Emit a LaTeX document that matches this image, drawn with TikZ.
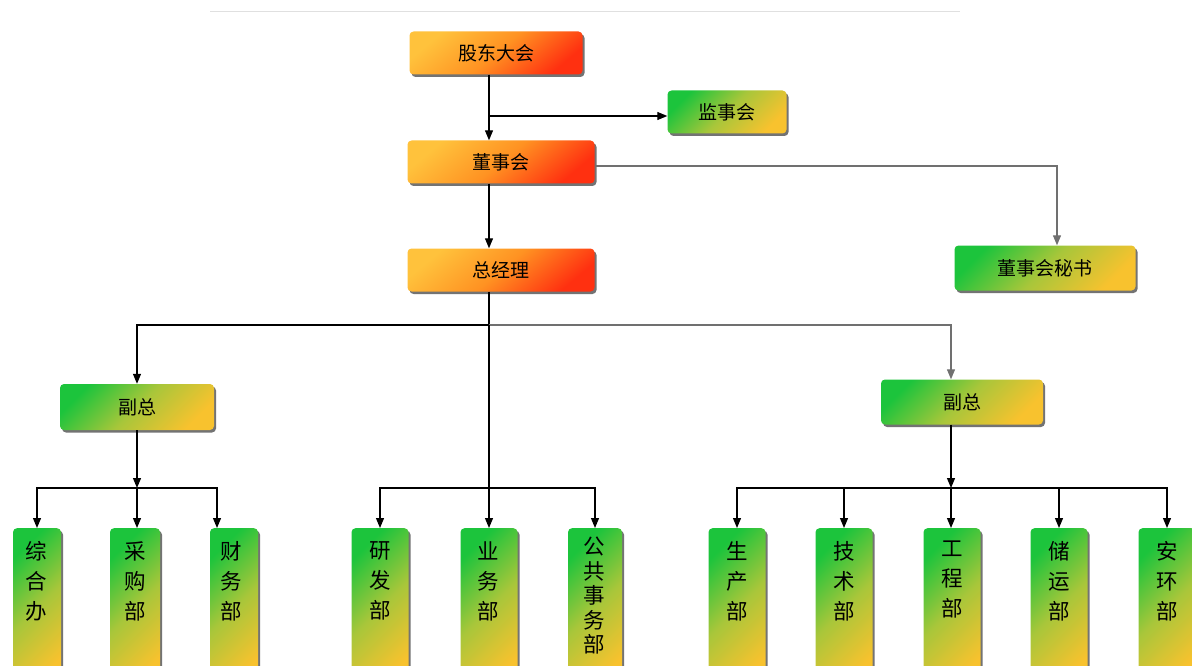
\documentclass[tikz,border=0pt]{standalone}
\usepackage{fontspec}
\setmainfont{Noto Sans CJK SC}
\usetikzlibrary{shadows,arrows.meta}
\definecolor{ggreen}{HTML}{1CC43C}
\definecolor{gmid}{HTML}{A8C63A}
\definecolor{gyellow}{HTML}{F8C22E}
\definecolor{oyellow}{HTML}{FFC23C}
\definecolor{oorange}{HTML}{FF9222}
\definecolor{ored}{HTML}{FF3010}
\definecolor{conngray}{HTML}{707070}
\tikzset{
  box/.style={rectangle, rounded corners=4pt, inner sep=0pt,
    drop shadow={shadow xshift=2pt, shadow yshift=-2.5pt, opacity=0.55, fill=black},
    font=\fontsize{19}{22}\selectfont},
  obox/.style={box, top color=oyellow, bottom color=ored, middle color=oorange, shading angle=40},
  gbox/.style={box, top color=ggreen, bottom color=gyellow, middle color=gmid, shading angle=45},
  dept/.style={gbox, minimum height=160pt, anchor=north},
  vtext/.style={anchor=north, align=center, inner sep=0pt, font=\fontsize{21.5}{30}\selectfont},
  conn/.style={line width=1.2pt, -{Triangle[length=10pt,width=8pt]}},
}
\begin{document}
\begin{tikzpicture}[x=1pt,y=-1pt]
\useasboundingbox (0,0) rectangle (1192,666);
\clip (0,0) rectangle (1192,666);
\draw[black!12, line width=1pt] (210,12) -- (960,12);
\node[obox, minimum width=173pt, minimum height=43pt] (gddh) at (496,53) {股东大会};
\node[gbox, minimum width=119pt, minimum height=43pt] (jsh) at (727,112) {监事会};
\node[obox, minimum width=187pt, minimum height=43pt] (dsh) at (501,162) {董事会};
\node[obox, minimum width=187pt, minimum height=43pt] (zjl) at (501,270) {总经理};
\node[gbox, minimum width=181pt, minimum height=45pt] (dsms) at (1045,268) {董事会秘书};
\node[gbox, minimum width=154pt, minimum height=46pt] (fz1) at (137,407) {副总};
\node[gbox, minimum width=162pt, minimum height=45pt] (fz2) at (962,402) {副总};
\node[dept, minimum width=48pt] (b1) at (37,528) {};
\node[vtext] (t1) at (36,541) {综\\合\\办};
\node[dept, minimum width=50pt] (b2) at (135,528) {};
\node[vtext] (t2) at (135,541) {采\\购\\部};
\node[dept, minimum width=48pt] (b3) at (234,528) {};
\node[vtext] (t3) at (231,541) {财\\务\\部};
\node[dept, minimum width=57pt] (b4) at (380,528) {};
\node[vtext] (t4) at (380,541) {研\\发\\部};
\node[dept, minimum width=57pt] (b5) at (489,528) {};
\node[vtext] (t5) at (488,541) {业\\务\\部};
\node[dept, minimum width=54pt] (b6) at (595,528) {};
\node[vtext, font=\fontsize{21.5}{24.5}\selectfont] (t6) at (594,537) {公\\共\\事\\务\\部};
\node[dept, minimum width=57pt] (b7) at (737,528) {};
\node[vtext] (t7) at (737,541) {生\\产\\部};
\node[dept, minimum width=57pt] (b8) at (844,528) {};
\node[vtext] (t8) at (844,541) {技\\术\\部};
\node[dept, minimum width=57pt] (b9) at (952,528) {};
\node[vtext] (t9) at (952,541) {工\\程\\部};
\node[dept, minimum width=57pt] (b10) at (1059,528) {};
\node[vtext] (t10) at (1059,541) {储\\运\\部};
\node[dept, minimum width=57pt] (b11) at (1167,528) {};
\node[vtext] (t11) at (1167,541) {安\\环\\部};
\coordinate (c1) at (489,116);
\coordinate (c2) at (489,325);
\coordinate (c3) at (489,488);
\coordinate (c4) at (137,488);
\coordinate (c5) at (951,488);
\draw[conn] (gddh.south -| c1) -- (dsh.north -| c1);
\draw[conn] (c1) -- (jsh.west |- c1);
\draw[conn, conngray] ([yshift=-4pt]dsh.east) -| ([xshift=12pt]dsms.north);
\draw[conn] (dsh.south -| c1) -- (zjl.north -| c1);
\draw[line width=1.2pt] (zjl.south -| c2) -- (c2);
\draw[conn] (c2) -| (fz1.north);
\draw[conn, conngray] (c2) -| ([xshift=-11pt]fz2.north);
\draw[conn] (c2) -- (b5.north);
\draw[conn] (c3) -| (b4.north);
\draw[conn] (c3) -| (b6.north);
\draw[conn] (fz1.south) -- (c4);
\draw[conn] (c4) -| (b1.north);
\draw[conn] (c4) -- (b2.north -| c4);
\draw[conn] (c4) -| ([xshift=-17pt]b3.north);
\draw[conn] ([xshift=-11pt]fz2.south) -- (c5);
\draw[conn] (c5) -| (b7.north);
\draw[conn] (c5) -| (b8.north);
\draw[conn] (c5) -- (b9.north -| c5);
\draw[conn] (c5) -| (b10.north);
\draw[conn] (c5) -| (b11.north);
\end{tikzpicture}
\end{document}
